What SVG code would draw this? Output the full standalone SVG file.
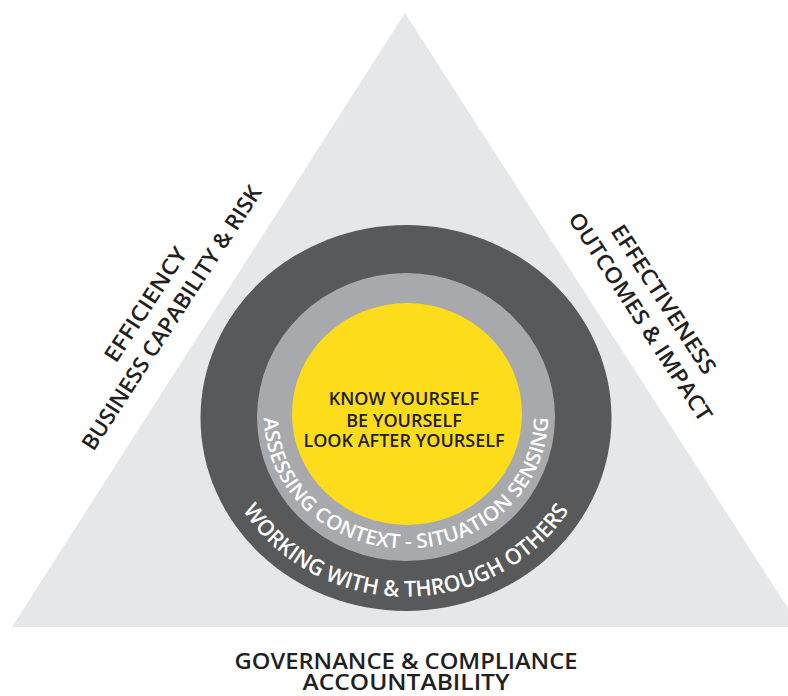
<svg xmlns="http://www.w3.org/2000/svg" xmlns:xlink="http://www.w3.org/1999/xlink" width="788" height="696" viewBox="0 0 788 696">
<style>
.lbl{font-family:"Open Sans","Liberation Sans",sans-serif;font-weight:600;fill:#231f20;text-anchor:middle}
.side{font-size:22px}
.ring{font-family:"Open Sans","Liberation Sans",sans-serif;font-weight:600;fill:#ffffff}
</style>
<defs>
<path id="pGray" d="M264.5,405.5 A142,132 0 1 0 547.5,405.5"/>
<path id="pDark" d="M215.7,401.3 A191,180 0 1 0 596.3,401.3"/>
</defs>
<rect width="788" height="696" fill="#ffffff"/>
<g id="triangle">
<polygon points="405,13 12,627 800,627" fill="#e6e7e8"/>
</g>
<g id="outer-ring">
<ellipse cx="406" cy="418" rx="205.5" ry="193" fill="#58595b"/>
<text class="ring" font-size="22"><textPath href="#pDark" xlink:href="#pDark" startOffset="50%" text-anchor="middle" textLength="385" lengthAdjust="spacingAndGlyphs">WORKING WITH &amp; THROUGH OTHERS</textPath></text>
</g>
<g id="middle-ring">
<ellipse cx="406" cy="417" rx="149" ry="144" fill="#a7a9ac"/>
<text class="ring" font-size="20"><textPath href="#pGray" xlink:href="#pGray" startOffset="50%" text-anchor="middle" textLength="428" lengthAdjust="spacingAndGlyphs">ASSESSING CONTEXT - SITUATION SENSING</textPath></text>
</g>
<g id="core">
<ellipse cx="407" cy="414" rx="115" ry="111" fill="#fddc1c"/>
<text class="lbl" font-size="18"><tspan x="404" y="405">KNOW YOURSELF</tspan><tspan x="404" y="427">BE YOURSELF</tspan><tspan x="404" y="447">LOOK AFTER YOURSELF</tspan></text>
</g>
<g id="left-label" transform="translate(178,322) rotate(-57)">
<text class="lbl side"><tspan x="-3" y="-29" textLength="132" lengthAdjust="spacingAndGlyphs">EFFICIENCY</tspan><tspan x="0" y="0" textLength="310" lengthAdjust="spacingAndGlyphs">BUSINESS CAPABILITY &amp; RISK</tspan></text>
</g>
<g id="right-label" transform="translate(634,321) rotate(57)">
<text class="lbl side"><tspan x="-2" y="-29" textLength="173" lengthAdjust="spacingAndGlyphs">EFFECTIVENESS</tspan><tspan x="0" y="0" textLength="244" lengthAdjust="spacingAndGlyphs">OUTCOMES &amp; IMPACT</tspan></text>
</g>
<g id="bottom-label">
<text class="lbl" font-size="22"><tspan x="406" y="669" textLength="343" lengthAdjust="spacingAndGlyphs">GOVERNANCE &amp; COMPLIANCE</tspan><tspan x="406" y="690" textLength="207" lengthAdjust="spacingAndGlyphs">ACCOUNTABILITY</tspan></text>
</g>
</svg>
